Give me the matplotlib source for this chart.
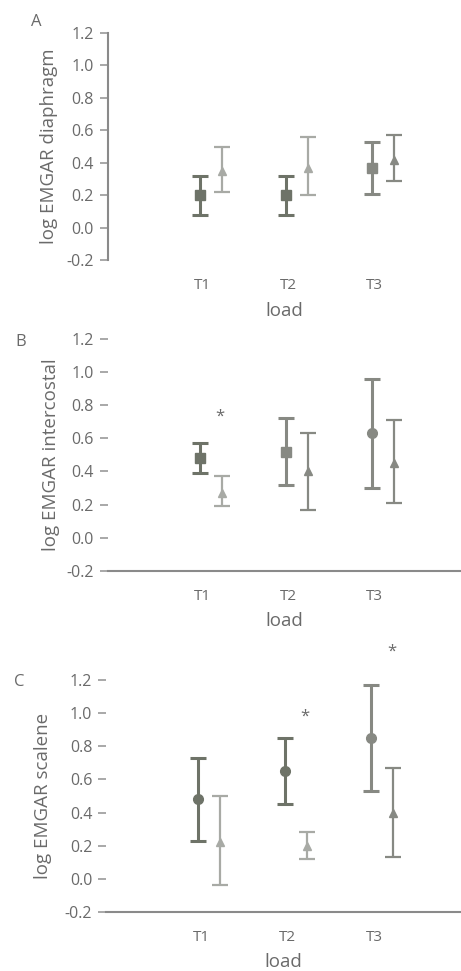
import matplotlib
matplotlib.use("Agg")
import matplotlib.pyplot as plt
import numpy as np

plt.rcParams['font.family'] = ['Open Sans', 'DejaVu Sans']

loads = ["T1", "T2", "T3"]
tick_text = ["T1", "T2", "T3"]

# Panel A: diaphragm
a_s1_mean = [0.20, 0.20, 0.37]
a_s1_low = [0.08, 0.08, 0.21]
a_s1_high = [0.32, 0.32, 0.53]
a_s2_mean = [0.35, 0.37, 0.42]
a_s2_low = [0.22, 0.20, 0.29]
a_s2_high = [0.50, 0.56, 0.57]

# Panel B: intercostal
b_s1_mean = [0.48, 0.52, 0.63]
b_s1_low = [0.39, 0.32, 0.30]
b_s1_high = [0.57, 0.72, 0.96]
b_s2_mean = [0.27, 0.40, 0.45]
b_s2_low = [0.19, 0.17, 0.21]
b_s2_high = [0.37, 0.63, 0.71]

# Panel C: scalene
c_s1_mean = [0.48, 0.65, 0.85]
c_s1_low = [0.23, 0.45, 0.53]
c_s1_high = [0.73, 0.85, 1.17]
c_s2_mean = [0.22, 0.20, 0.40]
c_s2_low = [-0.04, 0.12, 0.13]
c_s2_high = [0.50, 0.28, 0.67]

# significance stars: (load index, y)
b_stars = [(0, 0.73)]
c_stars = [(1, 0.98), (2, 1.37)]

DARK = "#6e7368"
MED = "#878983"
LIGHT = "#a8aaa5"
TXT = "#6a6a6a"

panels = [
    dict(letter="A", ylabel="log EMGAR diaphragm",
         s1=(a_s1_mean, a_s1_low, a_s1_high), s2=(a_s2_mean, a_s2_low, a_s2_high),
         c1=[DARK, DARK, MED], c2=[LIGHT, LIGHT, MED],
         m1=["s", "s", "s"], stars=[],
         rect=[0.234, 0.732, 0.766, 0.234], spine_left=True, spine_bottom=False),
    dict(letter="B", ylabel="log EMGAR intercostal",
         s1=(b_s1_mean, b_s1_low, b_s1_high), s2=(b_s2_mean, b_s2_low, b_s2_high),
         c1=[DARK, MED, MED], c2=[LIGHT, MED, MED],
         m1=["s", "s", "o"], stars=b_stars,
         rect=[0.234, 0.412, 0.766, 0.239], spine_left=False, spine_bottom=True),
    dict(letter="C", ylabel="log EMGAR scalene",
         s1=(c_s1_mean, c_s1_low, c_s1_high), s2=(c_s2_mean, c_s2_low, c_s2_high),
         c1=[DARK, DARK, MED], c2=[LIGHT, LIGHT, MED],
         m1=["o", "o", "o"], stars=c_stars,
         rect=[0.230, 0.0608, 0.770, 0.239], spine_left=False, spine_bottom=True),
]

fig = plt.figure(figsize=(4.61, 9.71), dpi=100)
x = np.arange(1, len(loads) + 1)
off1, off2 = -0.035, 0.22

letter_pos = {"A": (0.067, 0.977), "B": (0.033, 0.648), "C": (0.030, 0.298)}
ylabel_x = {"A": 58, "B": 60, "C": 52}

for p in panels:
    ax = fig.add_axes(p["rect"])
    m, lo, hi = p["s1"]
    for i in range(len(loads)):
        ax.errorbar(x[i] + off1, m[i], yerr=[[m[i] - lo[i]], [hi[i] - m[i]]],
                    fmt=p["m1"][i], color=p["c1"][i], ms=7, elinewidth=2.2,
                    capsize=5.5, capthick=2.2)
    m, lo, hi = p["s2"]
    for i in range(len(loads)):
        ax.errorbar(x[i] + off2, m[i], yerr=[[m[i] - lo[i]], [hi[i] - m[i]]],
                    fmt="^", color=p["c2"][i], ms=5.5, elinewidth=1.6,
                    capsize=5.5, capthick=1.6)
    for (i, yv) in p["stars"]:
        ax.text(x[i] + off2 - 0.02, yv, "*", ha="center", va="center",
                fontsize=12, color=TXT)
    ax.set_xlim(-0.10, 4.0)
    ax.set_ylim(-0.2, 1.2)
    yt = np.arange(-0.2, 1.21, 0.2)
    ax.set_yticks(yt)
    ax.set_yticklabels(["%.1f" % v if abs(v) > 1e-9 else "0.0" for v in yt])
    ax.set_xticks(x)
    ax.set_xticklabels(tick_text)
    ax.tick_params(axis="x", length=0, pad=13, labelsize=11, labelcolor=TXT)
    ax.tick_params(axis="y", length=6, width=1.2, color="#9a9a9a",
                   pad=4, labelsize=11.5, labelcolor=TXT)
    for s in ["top", "right"]:
        ax.spines[s].set_visible(False)
    ax.spines["left"].set_visible(p["spine_left"])
    ax.spines["left"].set_color("#8a8a8a")
    ax.spines["left"].set_linewidth(1.5)
    ax.spines["bottom"].set_visible(p["spine_bottom"])
    ax.spines["bottom"].set_color("#8a8a8a")
    ax.spines["bottom"].set_linewidth(1.5)
    ax.patch.set_visible(False)
    ax.set_xlabel("load", fontsize=13.5, color=TXT, labelpad=6)
    ax.set_ylabel(p["ylabel"], fontsize=13.5, color=TXT)
    left_px = p["rect"][0] * 461
    width_px = p["rect"][2] * 461
    ax.yaxis.set_label_coords((ylabel_x[p["letter"]] - left_px) / width_px, 0.5)
    lx, ly = letter_pos[p["letter"]]
    fig.text(lx, ly, p["letter"], fontsize=12, color=TXT, ha="left", va="center")

fig.savefig("out.png", dpi=100)
